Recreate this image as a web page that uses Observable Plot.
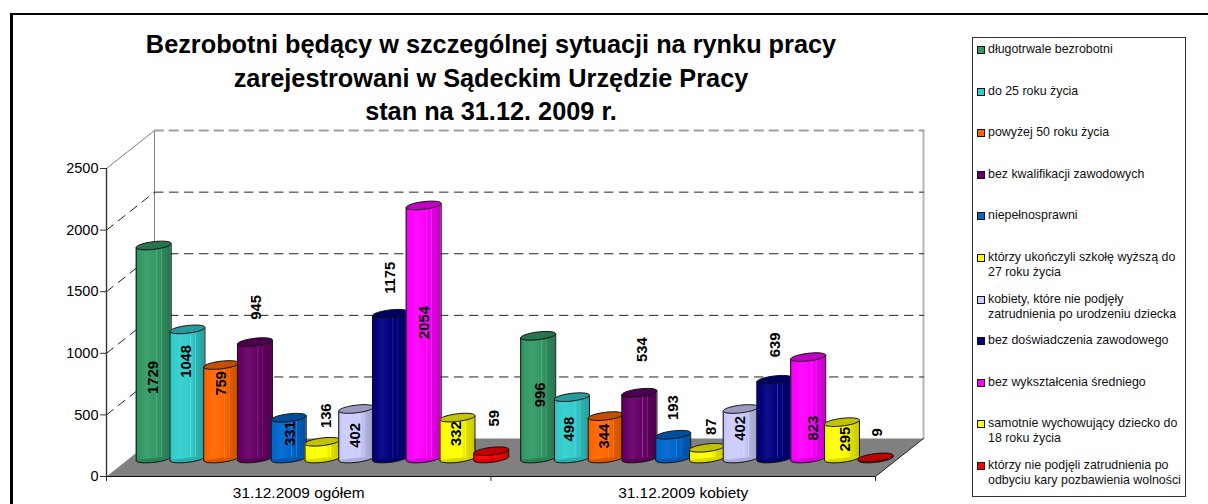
<!DOCTYPE html>
<html><head><meta charset="utf-8">
<script src="https://cdn.jsdelivr.net/npm/d3@7"></script>
<script src="https://cdn.jsdelivr.net/npm/@observablehq/plot@0.6"></script>
<style>
html,body{margin:0;padding:0;background:#fff;overflow:hidden}
#page{position:relative;width:1208px;height:504px;font-family:"Liberation Sans",Arial,sans-serif;color:#000}
#frame{position:absolute;left:10px;top:13px;width:1198px;height:491px;border-left:3px solid #000;border-top:2px solid #000;box-sizing:border-box;pointer-events:none}
#title{position:absolute;left:91px;width:800px;top:28px;text-align:center;font-weight:bold;font-size:25.3px;line-height:33.5px;white-space:pre}
#legend{position:absolute;left:972px;top:37px;width:214px;height:460px;border:1px solid #333;box-sizing:border-box;overflow:hidden;background:#fff}
.row{position:absolute;left:15px;font-size:12.4px;line-height:15px;white-space:pre;color:#111}
.sw{position:absolute;left:-11px;top:4px;width:6px;height:6px;border:1px solid #111}
#chart{position:absolute;left:0;top:0}
</style></head><body>
<div id="page"><div id="chart"></div><div id="frame"></div><div id="title"></div><div id="legend"></div></div>
<script>
const titleLines = ["Bezrobotni będący w szczególnej sytuacji na rynku pracy","zarejestrowani w Sądeckim Urzędzie Pracy","stan na 31.12. 2009 r."];
const groups = ["31.12.2009 ogółem","31.12.2009 kobiety"];
const series = ["długotrwale bezrobotni","do 25 roku życia","powyżej 50 roku życia","bez kwalifikacji zawodowych","niepełnosprawni","którzy ukończyli szkołę wyższą do\n27 roku życia","kobiety, które nie podjęły\nzatrudnienia po urodzeniu dziecka","bez doświadczenia zawodowego","bez wykształcenia średniego","samotnie wychowujący dziecko do\n18 roku życia","którzy nie podjęli zatrudnienia po\nodbyciu kary pozbawienia wolności"];
const ogolem = [1729,1048,759,945,331,136,402,1175,2054,332,59];
const kobiety = [996,498,344,534,193,87,402,639,823,295,9];
const colors = ["#339966","#33CCCC","#FF6600","#660066","#0066CC","#FFFF00","#CCCCFF","#000080","#FF00FF","#FFFF00","#FF0000"];
const yTicks = [0,500,1000,1500,2000,2500];

// label placement quirks of the original (px relative to bar top / centre)
const labelDy = [[132,32,18.5,-34.6,16,-26,26.5,-36,117,16,-33],[59,32,20,-43,-27,-21,19.5,-35,71,17,-25]];
const labelDx = [[0,-1,0,1.5,2,3.5,-1,0,1,-1,3],[2,-3,-1,2.5,0,4,0,0.5,5,3,2]];

const values = [ogolem,kobiety];
const depthY = 308, barBase = 146, skewY = 16;       // value units
const depthX = 48 / 384.5;                            // category units
const first = 0.1228, step = 0.08778, half = 0.0455;

const shade = (c,k)=>{const h=d3.rgb(c);return d3.rgb(h.r*k,h.g*k,h.b*k).formatHex();};
const tint = (c,t)=>d3.interpolateRgb(c,"#fff")(t);
const gid = i=>`grad${i}`;

function defs(){
  const d = d3.create("svg:defs");
  colors.forEach((c,i)=>{
    const g = d.append("linearGradient").attr("id",gid(i));
    const st = [[0,shade(c,.93)],[.12,c],[.3,tint(c,.06)],[.58,c],[.6,tint(c,.22)],[.62,c],[.72,shade(c,.92)],[.74,tint(c,.15)],[.76,shade(c,.88)],[.9,shade(c,.82)],[1,shade(c,.78)]];
    st.forEach(([o,s])=>g.append("stop").attr("offset",o).attr("stop-color",s));
  });
  return d.node();
}

// tilted ellipse used for cylinder ends
const capSymbol = {draw(ctx,size){
  const a=Math.sqrt(size/Math.PI), b=a*.22, s=a*.115;
  for(let k=0;k<=48;k++){
    const t=k/48*2*Math.PI, x=a*Math.cos(t), y=b*Math.sin(t)-s*Math.cos(t);
    k?ctx.lineTo(x,y):ctx.moveTo(x,y);
  }
  ctx.closePath();
}};

const dash = "8.5 6.5";
const backWall = yTicks.slice(1,-1);
const marks = [
  defs,
  // floor
  Plot.line([[0,0],[2,0],[2+depthX,depthY],[depthX,depthY],[0,0]],{x:d=>d[0],y:d=>d[1],fill:"#808080",stroke:"none"}),
  // back & side walls
  Plot.line([[0,2500],[depthX,2500+depthY]],{x:d=>d[0],y:d=>d[1],stroke:"#808080",strokeWidth:1}),
  Plot.line([[depthX,2500+depthY],[depthX,depthY]],{x:d=>d[0],y:d=>d[1],stroke:"#808080",strokeWidth:1}),
  Plot.line([[2+depthX,depthY],[2+depthX,2500+depthY]],{x:d=>d[0],y:d=>d[1],stroke:"#b8b8b8",strokeWidth:2}),
  Plot.line([[depthX,2500+depthY],[2+depthX,2500+depthY]],{x:d=>d[0],y:d=>d[1],stroke:"#a0a0a0",strokeWidth:2,strokeDasharray:dash}),
  ...backWall.map(v=>Plot.line([[depthX,v+depthY],[2+depthX,v+depthY]],{x:d=>d[0],y:d=>d[1],stroke:"#222",strokeWidth:1,strokeDasharray:dash})),
  ...backWall.map(v=>Plot.line([[0,v],[depthX,v+depthY]],{x:d=>d[0],y:d=>d[1],stroke:"#222",strokeWidth:1,strokeDasharray:dash})),
  Plot.line([[2,0],[2+depthX,depthY]],{x:d=>d[0],y:d=>d[1],stroke:"#222",strokeWidth:1}),
  // axes
  Plot.ruleY([0],{x1:0,x2:2,stroke:"#111",strokeWidth:1.2}),
  Plot.ruleX([0],{y1:0,y2:2500,stroke:"#333",strokeWidth:1.4}),
  Plot.ruleX([0,1,2],{y1:0,y2:-40,stroke:"#333",strokeWidth:1}),
  Plot.axisY({ticks:yTicks,tickSize:6,tickPadding:2,fontSize:14.5,label:null,tickFormat:d=>String(d),stroke:"#333",color:"#000"}),
  Plot.axisX({ticks:[.5,1.5],tickSize:0,tickPadding:11,fontSize:15.4,label:null,tickFormat:d=>groups[Math.floor(d)],color:"#000"})
];

values.forEach((vals,g)=>{
  vals.forEach((v,i)=>{
    const cx=g+first+i*step, L=cx-half, R=cx+half, top=v+barBase, fill=`url(#${gid(i)})`;
    const row=[{x:cx,y:barBase}], cap=[{x:cx,y:top}];
    const body=[{x:L,y1:barBase-skewY,y2:top-skewY},{x:R,y1:barBase+skewY,y2:top+skewY}];
    marks.push(
      Plot.dot(row,{x:"x",y:"y",r:half*384.5,symbol:capSymbol,fill:shade(colors[i],.85),stroke:"#111",strokeWidth:1}),
      Plot.areaY(body,{x:"x",y1:"y1",y2:"y2",fill}),
      Plot.link(body,{x1:"x",x2:"x",y1:"y1",y2:"y2",stroke:"#111",strokeWidth:1}),
      Plot.dot(cap,{x:"x",y:"y",r:half*384.5,symbol:capSymbol,fill:shade(colors[i],.76),stroke:"#111",strokeWidth:1})
    );
  });
});
// data labels, above all bars
values.forEach((vals,g)=>vals.forEach((v,i)=>{
  marks.push(Plot.text([v],{x:()=>g+first+i*step,y:d=>d+barBase,text:d=>String(d),rotate:-90,dx:labelDx[g][i],dy:labelDy[g][i],fontSize:14.8,fontWeight:"bold",fill:"#000",textAnchor:"middle",lineAnchor:"middle"}));
}));

const plot = Plot.plot({
  width:1208,height:504,
  marginLeft:106,marginRight:333,marginTop:168,marginBottom:28,
  x:{domain:[0,2]},
  y:{domain:[0,2500]},
  style:{background:"transparent",fontFamily:'"Liberation Sans",Arial,sans-serif',overflow:"visible"},
  marks
});
document.getElementById("chart").append(plot);

document.getElementById("title").textContent = titleLines.join("\n");
const legend = document.getElementById("legend");
series.forEach((s,i)=>{
  const r=document.createElement("div");r.className="row";
  r.style.top=(50+41.6*i-37-1-8)+"px";
  r.textContent=s;
  const sw=document.createElement("span");sw.className="sw";sw.style.background=colors[i];
  r.prepend(sw);legend.append(r);
});
</script>
</body></html>
